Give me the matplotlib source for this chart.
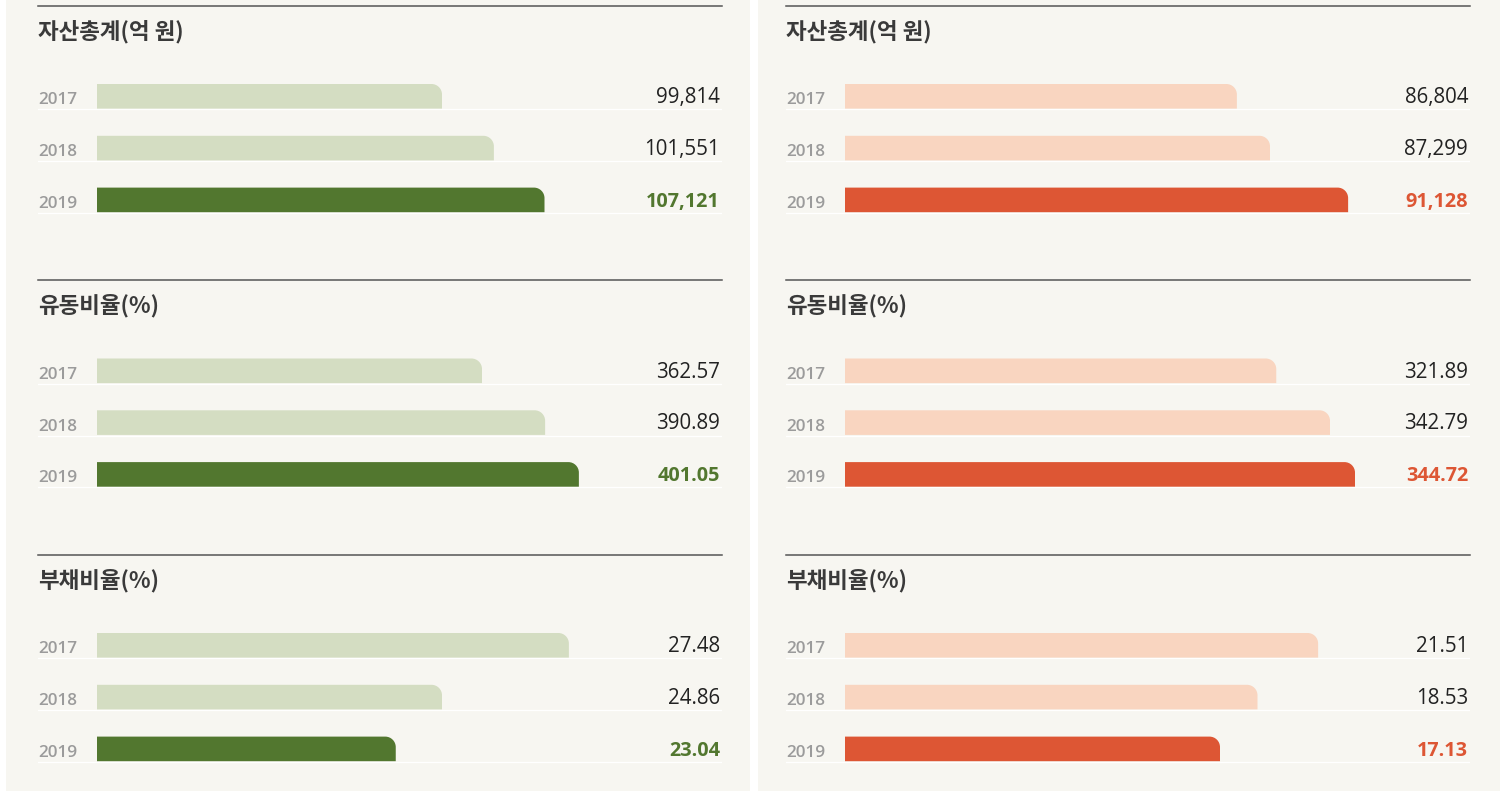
import matplotlib
matplotlib.use("Agg")
import matplotlib.pyplot as plt
from matplotlib.path import Path
from matplotlib.patches import PathPatch, Rectangle
from matplotlib.lines import Line2D

# ---------------- data ----------------
years = ["2017", "2018", "2019"]
titles = ["자산총계(억 원)", "유동비율(%)", "부채비율(%)"]

left_assets = [99814, 101551, 107121]
left_current = [362.57, 390.89, 401.05]
left_debt = [27.48, 24.86, 23.04]

right_assets = [86804, 87299, 91128]
right_current = [321.89, 342.79, 344.72]
right_debt = [21.51, 18.53, 17.13]

# drawn bar lengths (share of the track, %)
left_assets_bar = [55.2, 63.5, 71.6]
left_current_bar = [61.6, 71.7, 77.1]
left_debt_bar = [75.5, 55.2, 47.8]

right_assets_bar = [62.7, 68.0, 80.5]
right_current_bar = [69.0, 77.6, 81.6]
right_debt_bar = [75.7, 66.0, 60.0]

panels = [
    dict(values=[left_assets, left_current, left_debt],
         bars=[left_assets_bar, left_current_bar, left_debt_bar],
         light="#d4ddc2", dark="#52772f", off=0),
    dict(values=[right_assets, right_current, right_debt],
         bars=[right_assets_bar, right_current_bar, right_debt_bar],
         light="#f9d5c0", dark="#dd5634", off=748),
]
formats = ["{:,.0f}", "{:.2f}", "{:.2f}"]

# ---------------- layout ----------------
W, H = 1500, 806
fig = plt.figure(figsize=(W / 100, H / 100), dpi=100)
fig.patch.set_facecolor("white")
BG = "#f7f6f1"

for x0, x1 in [(6, 750), (758, 1500)]:
    fig.add_artist(Rectangle((x0 / W, 1 - 791 / H), (x1 - x0) / W, 791 / H,
                             transform=fig.transFigure, facecolor=BG,
                             edgecolor="none", zorder=0))

KR = ["Noto Sans CJK KR", "DejaVu Sans"]
NUM = ["Open Sans", "Noto Sans", "DejaVu Sans"]

SEC = 274.5          # section pitch (px)
ROW = 51.8           # row pitch (px)
PXX = 6.25           # px per % unit
BAR_H = 24.6 / ROW
RX = 10.5 / PXX
RY = 10.5 / ROW
K = 0.5523


def rounded_bar(ax, y, w, h, color):
    top = y - h / 2
    bot = y + h / 2
    verts = [(0, bot), (w, bot), (w, top + RY),
             (w, top + RY - K * RY), (w - RX + K * RX, top), (w - RX, top),
             (0, top), (0, bot)]
    codes = [Path.MOVETO, Path.LINETO, Path.LINETO,
             Path.CURVE4, Path.CURVE4, Path.CURVE4,
             Path.LINETO, Path.CLOSEPOLY]
    ax.add_patch(PathPatch(Path(verts, codes), facecolor=color,
                           edgecolor="none", zorder=3))


for p in panels:
    off = p["off"]
    for s in range(3):
        sy = s * SEC
        # top rule
        fig.add_artist(Line2D([(38 + off) / W, (722 + off) / W],
                              [1 - (5.8 + sy) / H] * 2,
                              transform=fig.transFigure, color="#555555",
                              lw=1.1, zorder=2))
        # title
        fig.text((38 + off) / W, 1 - (38 + sy) / H, titles[s],
                 ha="left", va="baseline", fontsize=16.2, fontweight="bold",
                 family=KR, color="#3a3a3a", zorder=3)

        top_px = 96.3 - ROW / 2 + sy
        ax = fig.add_axes([(38 + off) / W, 1 - (top_px + 3 * ROW) / H,
                           684 / W, 3 * ROW / H])
        ax.set_facecolor("none")
        ax.set_xlim(-59 / PXX, 100)
        ax.set_ylim(2.5, -0.5)
        ax.axis("off")

        vals = p["values"][s]
        bars = p["bars"][s]
        for i, (yr, v, b) in enumerate(zip(years, vals, bars)):
            last = i == len(years) - 1
            ax.axhline(i + BAR_H / 2 + 0.6 / ROW, color="white", lw=0.9,
                       zorder=1)
            rounded_bar(ax, i, b, BAR_H, p["dark"] if last else p["light"])
            ax.text(-59 / PXX, i + 8.0 / ROW, yr, ha="left", va="baseline",
                    fontsize=12.3, fontweight="semibold", family=NUM,
                    color="#9b9b9b")
            ax.text(100 - 2 / PXX, i + 6.8 / ROW, formats[s].format(v),
                    ha="right", va="baseline",
                    fontsize=14.3 if last else 14.8,
                    fontweight="bold" if last else "normal", family=NUM,
                    color=p["dark"] if last else "#222222")

fig.savefig("out.png", dpi=100, facecolor=fig.get_facecolor())
